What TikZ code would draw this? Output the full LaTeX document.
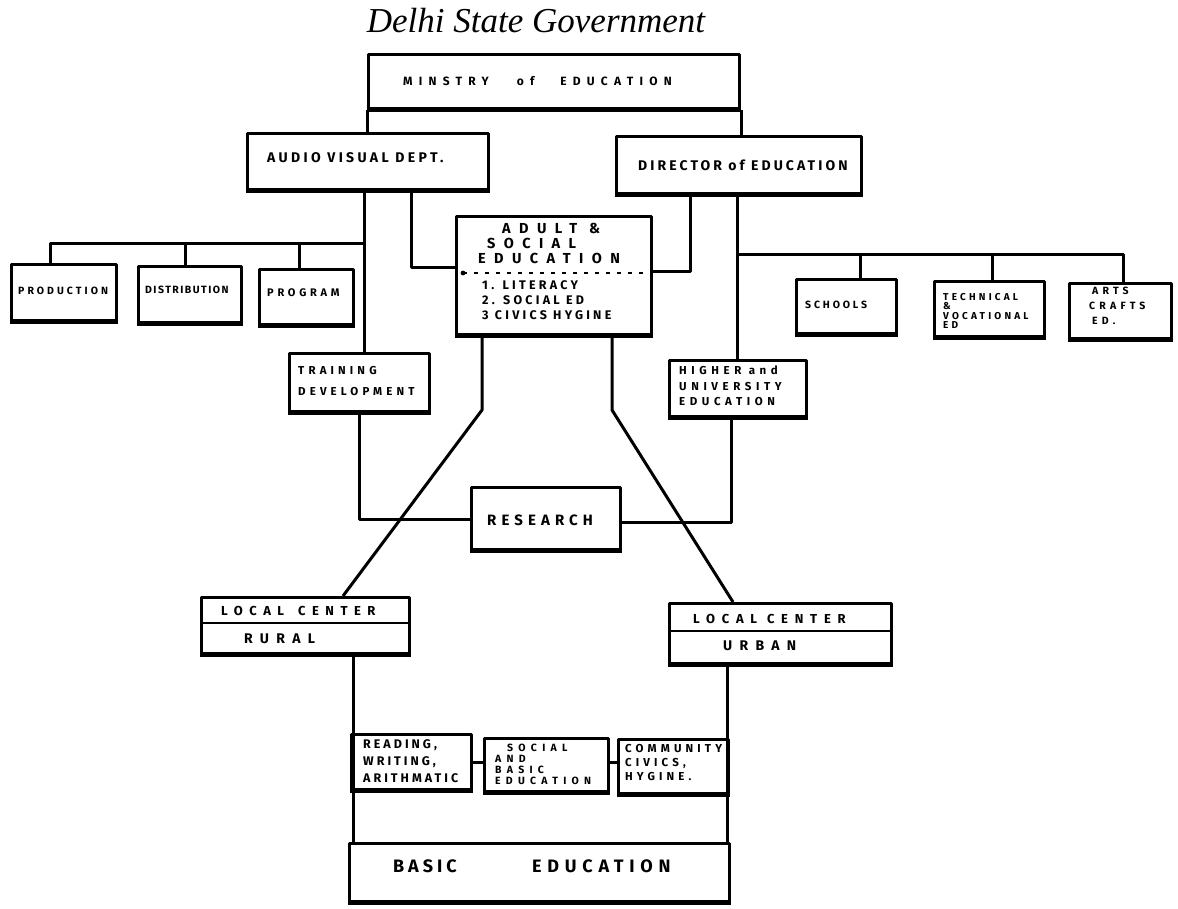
\documentclass[tikz,border=0pt]{standalone}
\usepackage{fontspec}
\newfontfamily\handfont{Fira Sans}
\newfontfamily\titlefont{Liberation Serif}
% hand lettering: size, line spacing, letter spacing
\newcommand{\hf}[3]{\handfont\bfseries\fontsize{#1}{#2}\selectfont\addfontfeatures{LetterSpace=#3}}
\begin{document}
\begin{tikzpicture}[x=1pt,y=-1pt,
  line join=round,
  box/.style={draw,line width=3pt,anchor=north west,inner sep=0pt,
    append after command={(\tikzlastnode.south west) edge[line width=4.5pt] (\tikzlastnode.south east)}},
  lbl/.style={inner sep=0pt,anchor=west,align=left},
  conn/.style={line width=3pt}]
\useasboundingbox (0,0) rectangle (1178,909);

% heading
\node[font=\titlefont\itshape\fontsize{35}{38}\selectfont,anchor=base] (title) at (536,33) {Delhi State Government};

% top level
\node[box,minimum width=371,minimum height=54] (min) at (367,53) {};
\node[lbl,font=\hf{12}{14}{52}] (mint) at (403,81) {MINSTRY\hspace{28pt}of\hspace{26pt}EDUCATION};

\node[box,minimum width=241,minimum height=56] (av) at (246,132) {};
\node[lbl,font=\hf{14}{16}{24}] (avt) at (267,158) {AUDIO VISUAL DEPT.};
\node[box,minimum width=245,minimum height=57] (dir) at (615,135) {};
\node[lbl,font=\hf{14}{16}{22}] (dirt) at (638,165) {DIRECTOR of EDUCATION};

% adult and social education
\node[box,minimum width=195,minimum height=118] (adult) at (455,215) {};
\node[lbl,font=\hf{14.5}{15}{58}] (adh) at (478,243) {\hspace{24pt}ADULT\hspace{12pt}\&\\\hspace{9pt}SOCIAL\\EDUCATION};
\node[lbl,font=\hf{12.5}{15}{26}] (adl) at (482,300) {1. LITERACY\\2. SOCIAL ED\\3 CIVICS HYGINE};
\draw[line width=1.2pt,dash pattern=on 4pt off 7pt] (adult.west |- 0,273) ++(8,0) -- (adult.east |- 0,273);
\fill (adult.west |- 0,273) ++(8,0) circle (2.4pt);

% audio visual branches
\node[box,minimum width=105,minimum height=56] (prod) at (10,263) {};
\node[lbl,font=\hf{10.5}{12}{29}] (prodt) at (18,291) {PRODUCTION};
\node[box,minimum width=103,minimum height=56] (dist) at (137,265) {};
\node[lbl,font=\hf{10.5}{12}{14}] (distt) at (145,290) {DISTRIBUTION};
\node[box,minimum width=94,minimum height=55] (prog) at (258,268) {};
\node[lbl,font=\hf{11}{12}{34}] (progt) at (267,293) {PROGRAM};
\node[box,minimum width=140,minimum height=58] (tr) at (288,352) {};
\node[lbl,font=\hf{11.5}{21}{36}] (trt) at (298,381) {TRAINING\\DEVELOPMENT};

% director branches
\node[box,minimum width=100,minimum height=54] (sch) at (795,278) {};
\node[lbl,font=\hf{10.5}{12}{27}] (scht) at (805,305) {SCHOOLS};
\node[box,minimum width=110,minimum height=55] (tech) at (933,280) {};
\node[lbl,font=\hf{10}{9.5}{32}] (techt) at (943,311) {TECHNICAL\\\&\\VOCATIONAL\\ED};
\node[box,minimum width=102,minimum height=55] (arts) at (1068,282) {};
\node[lbl,font=\hf{10.5}{15}{40}] (artst) at (1089,306) {\hspace{3pt}ARTS\\CRAFTS\\\hspace{3pt}ED.};
\node[box,minimum width=137,minimum height=56] (hi) at (668,359) {};
\node[lbl,font=\hf{11.5}{15.5}{40}] (hit) at (679,386) {HIGHER and\\UNIVERSITY\\EDUCATION};

% research
\node[box,minimum width=149,minimum height=62] (res) at (470,486) {};
\node[lbl,font=\hf{15}{17}{34}] (rest) at (487,520) {RESEARCH};

% local centers
\node[box,minimum width=208,minimum height=56] (rural) at (200,596) {};
\draw[line width=2pt] (rural.west |- 0,623) -- (rural.east |- 0,623);
\node[lbl,font=\hf{13}{15}{50}] (rurt) at (221,611) {LOCAL\hspace{14pt}CENTER};
\node[lbl,font=\hf{14}{16}{52}] (rurb) at (244,639) {RURAL};
\node[box,minimum width=222,minimum height=60] (urban) at (668,602) {};
\draw[line width=2pt] (urban.west |- 0,631) -- (urban.east |- 0,631);
\node[lbl,font=\hf{13}{15}{52}] (urbt) at (693,619) {LOCAL CENTER};
\node[lbl,font=\hf{14}{16}{52}] (urbb) at (723,646) {URBAN};

% basic education
\node[box,minimum width=120,minimum height=55] (rw) at (350,733) {};
\node[lbl,font=\hf{12.5}{17}{24}] (rwt) at (363,761) {READING,\\WRITING,\\ARITHMATIC};
\node[box,minimum width=124,minimum height=53] (sb) at (483,737) {};
\node[lbl,font=\hf{10.5}{11}{50}] (sbt) at (495,764) {\hspace{12pt}SOCIAL\\AND\\BASIC\\EDUCATION};
\node[box,minimum width=110,minimum height=54] (cc) at (617,738) {};
\node[lbl,font=\hf{11.5}{14}{36}] (cct) at (625,763) {COMMUNITY\\CIVICS,\\HYGINE.};
\node[box,minimum width=380,minimum height=58] (basic) at (348,842) {};
\node[lbl,font=\hf{18}{20}{22}] (basict) at (393,866) {BASIC};
\node[lbl,font=\hf{18}{20}{32}] (basict2) at (532,866) {EDUCATION};

% connectors
\draw[conn] (min.south west) -- (min.south west |- av.north);
\draw[conn] (min.south east) -- (min.south east |- dir.north);
\draw[conn] (av.south -| 364,0) -- (tr.north -| 364,0);
\draw[conn] (364,244) -- (50,244) -- (prod.north -| 50,0);
\draw[conn] (185,244) -- (dist.north -| 185,0);
\draw[conn] (299,244) -- (prog.north -| 299,0);
\draw[conn] (av.south -| 411,0) |- (adult.west |- 0,268);
\draw[conn] (dir.south -| 690,0) |- (adult.east |- 0,272);
\draw[conn] (dir.south -| 737,0) -- (hi.north -| 737,0);
\draw[conn] (737,255) -- (1123,255) -- (arts.north -| 1123,0);
\draw[conn] (860,255) -- (sch.north -| 860,0);
\draw[conn] (992,255) -- (tech.north -| 992,0);
\draw[conn] (tr.south -| 359,0) |- (res.west |- 0,519);
\draw[conn] (hi.south -| 731,0) |- (res.east |- 0,522);
\draw[conn] (adult.south -| 482,0) -- (482,410) -- (rural.north -| 343,0);
\draw[conn] (adult.south -| 612,0) -- (612,410) -- (urban.north -| 733,0);
\draw[conn] (rural.south -| 353,0) -- (basic.north -| 353,0);
\draw[conn] (urban.south -| 727,0) -- (basic.north -| 727,0);
\draw[conn] (rw.east |- 0,762) -- (sb.west |- 0,762);
\draw[conn] (sb.east |- 0,762) -- (cc.west |- 0,762);
\end{tikzpicture}
\end{document}
